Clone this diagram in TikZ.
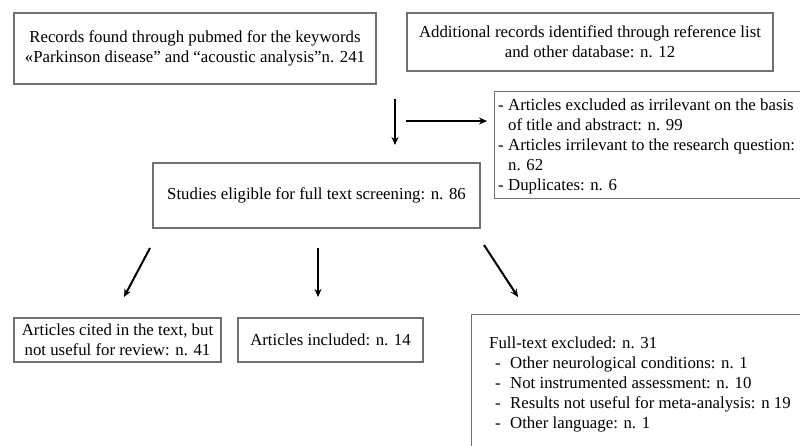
\documentclass[tikz,border=0pt]{standalone}
\usepackage{fontspec}
\setmainfont{Liberation Serif}
\usetikzlibrary{arrows.meta}
\definecolor{boxgray}{RGB}{112,112,112}
\newcommand\fs{\fontsize{16.8}{20}\selectfont}
\begin{document}
\begin{tikzpicture}[x=1pt,y=-1pt,
  box/.style={draw=boxgray, line width=1.1pt, inner sep=0pt, font=\fs, align=center},
  txt/.style={inner sep=0pt, font=\fs, align=left},
  arr/.style={line width=2pt, -{Stealth[length=8pt,width=7pt]}}]
\useasboundingbox (0,0) rectangle (800,446);
\fill[white] (0,0) rectangle (800,446);
% boxes
\node[box, minimum width=362pt, minimum height=71pt] (rec) at (195,48.5)
  {Records found through pubmed for the keywords\\«Parkinson disease” and “acoustic analysis”n. 241};
\node[box, minimum width=366pt, minimum height=58pt] (add) at (590,42)
  {Additional records identified through reference list\\and other database: n. 12};
\node[box, minimum width=314pt, minimum height=107pt, anchor=north west] (exc) at (494,91) {};
\node[txt, anchor=west] (exct) at (498,146)
  {\makebox[10pt][l]{-}Articles excluded as irrilevant on the basis\\
   \hspace*{10pt}of title and abstract: n. 99\\
   \makebox[10pt][l]{-}Articles irrilevant to the research question:\\
   \hspace*{10pt}n. 62\\
   \makebox[10pt][l]{-}Duplicates: n. 6};
\node[box, minimum width=327pt, minimum height=65pt] (elig) at (316.5,195.5)
  {Studies eligible for full text screening: n. 86};
\node[box, minimum width=207pt, minimum height=44pt] (cit) at (117.5,340)
  {Articles cited in the text, but\\not useful for review: n. 41};
\node[box, minimum width=185pt, minimum height=44pt] (inc) at (330.5,340)
  {Articles included: n. 14};
\node[box, minimum width=340pt, minimum height=150pt, anchor=north west] (ft) at (471,314) {};
\node[txt, anchor=west] (ftt) at (489,384)
  {Full-text excluded: n. 31\\
   \hspace*{6pt}\makebox[15pt][l]{-}Other neurological conditions: n. 1\\
   \hspace*{6pt}\makebox[15pt][l]{-}Not instrumented assessment: n. 10\\
   \hspace*{6pt}\makebox[15pt][l]{-}Results not useful for meta-analysis: n 19\\
   \hspace*{6pt}\makebox[15pt][l]{-}Other language: n. 1};
% arrow end points
\coordinate (d1) at (395,99);  \coordinate (d2) at (395,145);
\coordinate (r1) at (406,121); \coordinate (r2) at (487,121);
\coordinate (l1) at (150,248); \coordinate (l2) at (124,297);
\coordinate (m1) at (318,248); \coordinate (m2) at (318,297);
\coordinate (q1) at (484,245); \coordinate (q2) at (518,297);
\draw[arr] (d1) -- (d2);
\draw[arr] (r1) -- (r2);
\draw[arr] (l1) -- (l2);
\draw[arr] (m1) -- (m2);
\draw[arr] (q1) -- (q2);
\end{tikzpicture}
\end{document}
